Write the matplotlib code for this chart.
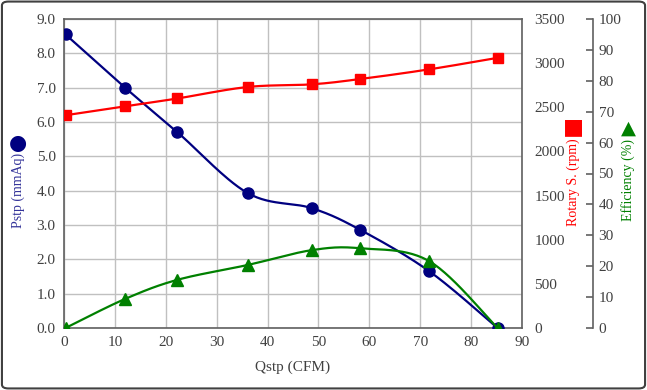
import numpy as np
import matplotlib.pyplot as plt
from matplotlib.patches import FancyBboxPatch

plt.rcParams['font.family'] = ['Liberation Serif', 'DejaVu Sans']

# data
q = [0.3, 12.0, 22.3, 36.1, 48.7, 58.2, 71.8, 85.2]          # Qstp (CFM)
pstp = [8.55, 7.0, 5.7, 3.93, 3.49, 2.86, 1.65, 0.0]          # mmAq
rpm = [2410, 2510, 2600, 2730, 2760, 2820, 2930, 3060]        # Rotary S.
eff = [0.0, 9.4, 15.6, 20.4, 25.2, 25.8, 21.6, 0.0]           # Efficiency %

x_ticks = list(range(0, 100, 10))
p_ticks = [i * 1.0 for i in range(10)]
r_ticks = list(range(0, 4000, 500))
e_ticks = list(range(0, 110, 10))

BLUE = '#000080'
RED = '#ff0000'
GREEN = '#008000'
GRAY = '#404040'


def smooth(x, y, xr, yr, n=30):
    # excel-like smoothed line (bezier through points), done in pixel-ish space
    sx = 458 / xr
    sy = 309 / yr
    pts = np.column_stack([np.asarray(x) * sx, np.asarray(y) * sy])
    out = []
    for i in range(len(pts) - 1):
        p0 = pts[max(i - 1, 0)]
        p1 = pts[i]
        p2 = pts[i + 1]
        p3 = pts[min(i + 2, len(pts) - 1)]
        c1 = p1 + (p2 - p0) / 6
        c2 = p2 - (p3 - p1) / 6
        t = np.linspace(0, 1, n)[:, None]
        seg = (1 - t) ** 3 * p1 + 3 * (1 - t) ** 2 * t * c1 + 3 * (1 - t) * t ** 2 * c2 + t ** 3 * p2
        out.append(seg if i == 0 else seg[1:])
    out = np.vstack(out)
    return out[:, 0] / sx, out[:, 1] / sy


fig = plt.figure(figsize=(6.47, 3.9), dpi=100)
ax = fig.add_axes([64 / 647, 62 / 390, 458 / 647, 309 / 390])

# pressure
sx, sy = smooth(q, pstp, 90, 9)
ax.plot(sx, sy, color=BLUE, lw=1.6, zorder=3)
ax.plot(q, pstp, 'o', color=BLUE, ms=8, zorder=4)
ax.set_xlim(0, 90)
ax.set_ylim(0, 9)
ax.set_xticks(x_ticks)
ax.set_yticks(p_ticks)
ax.set_yticklabels(['%.1f' % v for v in p_ticks])
ax.grid(True, color='#c0c0c0', lw=1.0)
ax.set_axisbelow(True)
ax.tick_params(length=0, labelsize=11, colors=GRAY, pad=6)
for s in ax.spines.values():
    s.set_color('#606060')
    s.set_linewidth(1.2)
ax.set_xlabel('Qstp (CFM)', fontsize=11, color=GRAY, labelpad=8)

# rotary speed
ax2 = ax.twinx()
sx, sy = smooth(q, rpm, 90, 3500)
ax2.plot(sx, sy, color=RED, lw=1.6, zorder=3)
ax2.plot(q, rpm, 's', color=RED, ms=7.5, zorder=4)
ax2.set_ylim(0, 3500)
ax2.set_yticks(r_ticks)
ax2.tick_params(length=0, labelsize=11, colors=GRAY, pad=9)
for s in ax2.spines.values():
    s.set_visible(False)

# efficiency
ax3 = ax.twinx()
sx, sy = smooth(q, eff, 90, 100)
ax3.plot(sx, sy, color=GREEN, lw=1.6, zorder=3)
ax3.plot(q, eff, '^', color=GREEN, ms=8, zorder=4)
ax3.set_ylim(0, 100)
ax3.set_yticks(e_ticks)
ax3.spines['right'].set_position(('axes', 1.155))
for k in ['left', 'top', 'bottom']:
    ax3.spines[k].set_visible(False)
ax3.spines['right'].set_color('#606060')
ax3.spines['right'].set_linewidth(1.2)
ax3.tick_params(direction='in', length=5, width=1.2, color='#606060',
                labelsize=11, labelcolor=GRAY, pad=4)

# axis titles with their symbols
fig.text(18 / 647, 1 - 153 / 390, 'Pstp (mmAq)', rotation=90, ha='center', va='top',
         fontsize=10, color='#333399')
fig.text(18 / 647, 1 - 143 / 390, '\u25cf', ha='center', va='center', fontsize=15,
         color=BLUE, family='DejaVu Sans')
fig.text(573 / 647, 1 - 138 / 390, 'Rotary S. (rpm)', rotation=90, ha='center', va='top',
         fontsize=10, color=RED)
fig.text(573 / 647, 1 - 127 / 390, '\u25a0', ha='center', va='center', fontsize=16,
         color=RED, family='DejaVu Sans')
fig.text(628 / 647, 1 - 139 / 390, 'Efficiency (%)', rotation=90, ha='center', va='top',
         fontsize=10, color=GREEN)
fig.text(628 / 647, 1 - 128 / 390, '\u25b2', ha='center', va='center', fontsize=14,
         color=GREEN, family='DejaVu Sans')

# outer frame
fig.patches.append(FancyBboxPatch((0.003, 0.004), 0.994, 0.992, boxstyle='round,pad=0,rounding_size=0.01',
                                  transform=fig.transFigure, fill=False, ec=GRAY, lw=1.5))

fig.savefig('out.png', dpi=100)
